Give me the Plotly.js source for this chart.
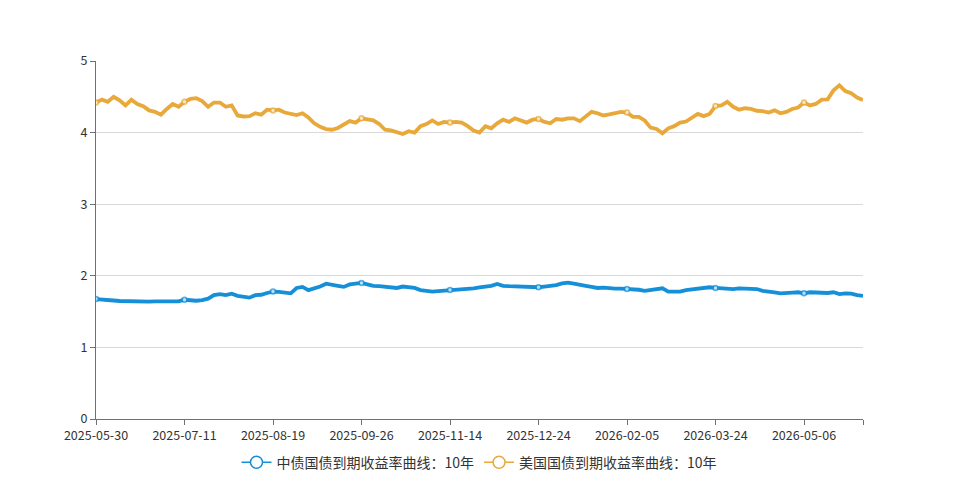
<!DOCTYPE html>
<html>
<head>
<meta charset="utf-8">
<script src="https://cdn.plot.ly/plotly-3.0.1.min.js"></script>
<style>html,body{margin:0;padding:0;background:#fff;}#chart{width:959px;height:480px;}</style>
</head>
<body>
<div id="chart"></div>
<script>
// Tick labels (dates shown on the category axis)
const dateLabels = ['2025-05-30','2025-07-11','2025-08-19','2025-09-26','2025-11-14','2025-12-24','2026-02-05','2026-03-24','2026-05-06'];

// Series names
const nameCN = '中债国债到期收益率曲线：10年';
const nameUS = '美国国债到期收益率曲线：10年';

// China 10Y yield (%)
const cnYield = [
  1.675,1.672,1.665,1.655,1.648,1.645,1.638,1.635,1.635,1.638,1.643,1.645,1.642,1.640,1.642,
  1.665,1.655,1.652,1.660,1.680,1.730,1.745,1.730,1.750,1.720,1.710,1.695,1.730,1.735,1.760,
  1.780,1.775,1.770,1.755,1.830,1.845,1.800,1.820,1.850,1.890,1.880,1.860,1.845,1.880,1.890,
  1.900,1.880,1.860,1.855,1.848,1.835,1.830,1.850,1.845,1.830,1.800,1.790,1.780,1.785,1.790,
  1.800,1.810,1.815,1.820,1.825,1.840,1.850,1.860,1.885,1.860,1.855,1.850,1.848,1.840,1.835,
  1.840,1.850,1.860,1.870,1.895,1.905,1.890,1.870,1.860,1.845,1.830,1.835,1.825,1.820,1.820,
  1.815,1.815,1.805,1.790,1.800,1.820,1.825,1.780,1.775,1.780,1.800,1.810,1.825,1.835,1.840,
  1.830,1.825,1.820,1.815,1.825,1.825,1.820,1.815,1.790,1.785,1.770,1.755,1.755,1.765,1.770,
  1.755,1.770,1.765,1.765,1.760,1.770,1.745,1.755,1.750,1.730,1.720
];

// US 10Y yield (%)
const usYield = [
  4.42,4.46,4.43,4.50,4.45,4.38,4.46,4.40,4.37,4.31,4.29,4.25,4.33,4.40,4.36,
  4.43,4.47,4.48,4.44,4.36,4.42,4.42,4.36,4.38,4.24,4.225,4.23,4.27,4.25,4.32,
  4.31,4.32,4.28,4.26,4.245,4.27,4.21,4.13,4.08,4.05,4.04,4.065,4.11,4.16,4.14,
  4.20,4.185,4.17,4.12,4.04,4.03,4.00,3.98,4.02,4.00,4.09,4.12,4.17,4.12,4.15,
  4.14,4.15,4.14,4.09,4.03,4.00,4.09,4.06,4.13,4.18,4.15,4.20,4.17,4.14,4.18,
  4.19,4.15,4.13,4.19,4.18,4.20,4.20,4.16,4.22,4.29,4.27,4.24,4.255,4.27,4.29,
  4.28,4.22,4.22,4.17,4.07,4.05,3.99,4.06,4.09,4.14,4.155,4.21,4.26,4.23,4.26,
  4.37,4.38,4.43,4.36,4.32,4.34,4.33,4.305,4.30,4.28,4.31,4.27,4.29,4.33,4.35,
  4.42,4.38,4.40,4.46,4.465,4.59,4.66,4.58,4.55,4.49,4.455
];

const cnColor = '#1590d8';
const usColor = '#e8a93a';
const labelStep = 15;

function xs(arr){ return arr.map((_, i) => i); }
function mSizes(arr){ return arr.map((_, i) => (i % labelStep === 0 ? 5 : 0)); }
function mLines(arr){ return arr.map((_, i) => (i % labelStep === 0 ? 1.5 : 0)); }

function seriesTrace(vals, color, name){
  return {
    type: 'scatter', mode: 'lines+markers', name: name, showlegend: false,
    x: xs(vals), y: vals,
    line: {color: color, width: 3.8},
    marker: {symbol: 'circle', size: mSizes(vals), color: '#ffffff',
             line: {color: color, width: mLines(vals)}},
    hoverinfo: 'x+y'
  };
}
function legendTrace(color, name){
  return {
    type: 'scatter', mode: 'lines+markers', name: name, showlegend: true,
    x: [null], y: [null],
    line: {color: color, width: 1.5},
    marker: {symbol: 'circle', size: 12, color: '#ffffff', line: {color: color, width: 1.5}}
  };
}

const lastIdx = cnYield.length - 1;
const tickvals = dateLabels.map((_, k) => k * labelStep).concat([lastIdx]);
const ticktext = dateLabels.concat(['']);

const data = [
  seriesTrace(cnYield, cnColor, nameCN),
  seriesTrace(usYield, usColor, nameUS),
  legendTrace(cnColor, nameCN),
  legendTrace(usColor, nameUS)
];

const font = '"Noto Sans CJK SC", "Noto Sans", sans-serif';
const layout = {
  width: 959, height: 480,
  margin: {l: 96, r: 96, t: 61, b: 61, pad: 0, autoexpand: false},
  paper_bgcolor: '#ffffff', plot_bgcolor: '#ffffff',
  font: {family: font, size: 12, color: '#333333'},
  showlegend: true,
  legend: {orientation: 'h', x: 0.5, xanchor: 'center', yref: 'container', y: 0.036, yanchor: 'middle',
           font: {family: font, size: 14, color: '#333333'}, itemwidth: 30, traceorder: 'normal'},
  xaxis: {
    range: [0, lastIdx], tickmode: 'array', tickvals: tickvals, ticktext: ticktext,
    showgrid: false, zeroline: false, showline: true, linecolor: '#6e7079', linewidth: 1,
    ticks: 'outside', ticklen: 5, tickcolor: '#6e7079', tickwidth: 1,
    tickfont: {family: font, size: 12.5, color: '#333333'}, fixedrange: true
  },
  yaxis: {
    range: [0, 5], tickmode: 'array', tickvals: [0,1,2,3,4,5], ticktext: ['0','1','2','3','4','5'],
    showgrid: true, gridcolor: '#d9d9d9', gridwidth: 1, zeroline: false,
    showline: true, linecolor: '#6e7079', linewidth: 1,
    ticks: 'outside', ticklen: 5, tickcolor: '#6e7079', tickwidth: 1,
    tickfont: {family: font, size: 12.5, color: '#333333'}, fixedrange: true
  }
};

Plotly.newPlot('chart', data, layout, {displayModeBar: false, staticPlot: true});
</script>
</body>
</html>
